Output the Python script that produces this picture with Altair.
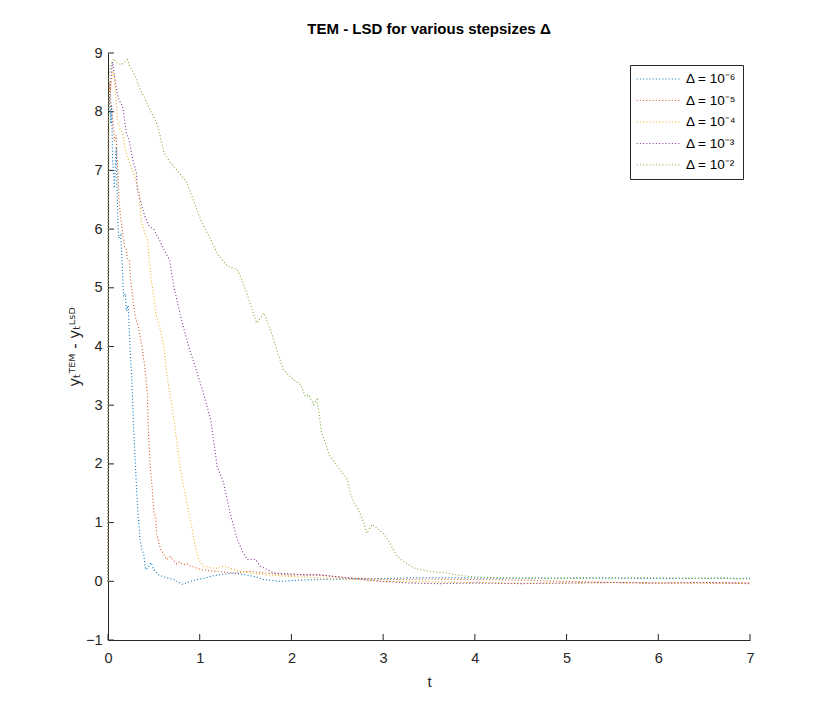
import altair as alt
import pandas as pd

# ---- data ----
labels = ["Δ = 10⁻⁶", "Δ = 10⁻⁵", "Δ = 10⁻⁴", "Δ = 10⁻³", "Δ = 10⁻²"]
colors = ["#0072BD", "#D95319", "#EDB120", "#7E2F8E", "#77AC30"]

t_e6 = [0, 0.005, 0.02, 0.03, 0.04, 0.05, 0.07, 0.09, 0.10, 0.11, 0.12, 0.14, 0.16, 0.17, 0.19, 0.20,
        0.22, 0.24, 0.26, 0.28, 0.30, 0.31, 0.33, 0.35, 0.37, 0.39, 0.41, 0.43, 0.47, 0.50, 0.55, 0.64,
        0.72, 0.81, 0.90, 0.97, 1.05, 1.12, 1.25, 1.37, 1.50, 1.59, 1.70, 1.88, 2.10, 2.31, 2.60, 2.97,
        3.30, 3.80, 4.30, 4.80, 5.30, 5.80, 6.30, 6.70, 7.00]
v_e6 = [0, 8.0, 8.3, 7.8, 8.1, 7.2, 6.7, 7.4, 6.6, 6.0, 5.85, 5.9, 5.2, 4.85, 4.9, 4.6,
        4.7, 4.0, 3.44, 2.58, 1.96, 1.6, 1.1, 0.71, 0.54, 0.45, 0.2, 0.22, 0.32, 0.2, 0.11, 0.06,
        0.03, -0.05, 0.0, 0.03, 0.05, 0.085, 0.12, 0.14, 0.11, 0.085, 0.03, 0.0, 0.02, 0.03, 0.04, 0.045,
        0.06, 0.06, 0.05, 0.055, 0.06, 0.05, 0.05, 0.055, 0.05]

t_e5 = [0, 0.005, 0.02, 0.03, 0.05, 0.07, 0.09, 0.10, 0.11, 0.12, 0.14, 0.16, 0.18, 0.20, 0.21, 0.23,
        0.25, 0.27, 0.28, 0.30, 0.33, 0.37, 0.41, 0.43, 0.44, 0.46, 0.48, 0.50, 0.52, 0.53, 0.57, 0.64,
        0.68, 0.70, 0.75, 0.78, 0.82, 0.86, 0.90, 1.01, 1.10, 1.19, 1.37, 1.55, 1.73, 1.95, 2.28, 2.60,
        2.79, 3.10, 3.50, 4.00, 4.50, 5.00, 5.50, 6.00, 6.50, 7.00]
v_e5 = [0, 8.0, 8.5, 8.2, 7.9, 7.5, 7.6, 7.18, 6.9, 6.5, 6.16, 5.94, 5.7, 5.65, 5.5, 5.48,
        5.1, 4.85, 4.68, 4.5, 4.34, 4.0, 3.55, 3.15, 2.58, 1.96, 1.62, 1.17, 1.1, 0.82, 0.56, 0.37,
        0.42, 0.38, 0.3, 0.33, 0.28, 0.3, 0.26, 0.2, 0.18, 0.17, 0.14, 0.17, 0.14, 0.11, 0.11, 0.06,
        0.045, 0.03, 0.04, 0.03, 0.02, 0.0, -0.02, -0.03, -0.03, -0.04]

t_e4 = [0, 0.005, 0.03, 0.05, 0.07, 0.09, 0.10, 0.13, 0.16, 0.18, 0.21, 0.25, 0.28, 0.31, 0.34, 0.36,
        0.40, 0.43, 0.47, 0.50, 0.52, 0.57, 0.61, 0.64, 0.68, 0.72, 0.77, 0.81, 0.84, 0.88, 0.92, 0.95,
        0.99, 1.04, 1.12, 1.20, 1.26, 1.37, 1.55, 1.73, 1.95, 2.28, 2.60, 3.00, 3.50, 4.00, 4.50, 5.00,
        5.50, 6.00, 6.50, 7.00]
v_e4 = [0, 8.2, 8.4, 8.7, 8.6, 8.2, 7.87, 7.7, 7.64, 7.41, 7.24, 7.07, 6.95, 6.79, 6.62, 6.16,
        5.94, 5.82, 5.14, 4.86, 4.57, 4.29, 4.0, 3.55, 3.15, 2.75, 2.13, 1.73, 1.5, 1.17, 0.88, 0.6,
        0.37, 0.26, 0.23, 0.22, 0.26, 0.2, 0.14, 0.11, 0.085, 0.06, 0.04, 0.0, -0.01, -0.02, -0.03, -0.03,
        -0.02, -0.03, -0.03, -0.03]

t_e3 = [0, 0.005, 0.02, 0.04, 0.05, 0.07, 0.10, 0.12, 0.16, 0.18, 0.20, 0.23, 0.27, 0.31, 0.32, 0.36,
        0.40, 0.45, 0.50, 0.56, 0.61, 0.67, 0.70, 0.72, 0.75, 0.81, 0.88, 0.95, 1.04, 1.12, 1.16, 1.19,
        1.26, 1.33, 1.41, 1.47, 1.52, 1.58, 1.61, 1.66, 1.81, 1.95, 2.17, 2.31, 2.60, 2.79, 2.97, 3.30,
        3.60, 4.00, 4.50, 5.00, 5.50, 6.00, 6.50, 7.00]
v_e3 = [0, 8.0, 8.3, 8.72, 8.85, 8.6, 8.32, 8.2, 8.09, 7.87, 7.64, 7.52, 7.18, 6.96, 6.67, 6.45,
        6.22, 6.05, 5.99, 5.82, 5.65, 5.48, 5.2, 5.0, 4.8, 4.4, 4.0, 3.66, 3.21, 2.75, 2.3, 1.96,
        1.68, 1.17, 0.71, 0.5, 0.37, 0.38, 0.37, 0.26, 0.14, 0.13, 0.11, 0.11, 0.06, 0.03, 0.0, -0.03,
        -0.04, -0.03, -0.04, -0.03, -0.02, -0.03, -0.02, -0.03]

t_e2 = [0, 0.01, 0.03, 0.06, 0.10, 0.15, 0.21, 0.24, 0.30, 0.35, 0.41, 0.46, 0.53, 0.57, 0.61, 0.68,
        0.75, 0.86, 0.93, 1.01, 1.12, 1.19, 1.30, 1.41, 1.46, 1.52, 1.62, 1.70, 1.77, 1.84, 1.91, 2.02,
        2.10, 2.15, 2.19, 2.24, 2.28, 2.30, 2.33, 2.37, 2.42, 2.50, 2.53, 2.57, 2.61, 2.64, 2.68, 2.73,
        2.79, 2.82, 2.88, 2.93, 3.01, 3.08, 3.15, 3.22, 3.33, 3.44, 3.55, 3.70, 3.84, 3.99, 4.30, 4.80,
        5.30, 5.80, 6.30, 6.70, 7.00]
v_e2 = [0, 8.6, 8.8, 8.9, 8.83, 8.8, 8.89, 8.77, 8.6, 8.38, 8.2, 8.03, 7.81, 7.58, 7.3, 7.13,
        7.01, 6.79, 6.5, 6.16, 5.82, 5.59, 5.37, 5.31, 5.14, 4.88, 4.4, 4.57, 4.29, 3.95, 3.61, 3.44,
        3.35, 3.15, 3.18, 3.01, 3.10, 2.87, 2.53, 2.36, 2.13, 1.96, 1.90, 1.82, 1.73, 1.51, 1.34, 1.22,
        0.99, 0.82, 0.97, 0.91, 0.80, 0.63, 0.43, 0.34, 0.23, 0.19, 0.16, 0.14, 0.10, 0.075, 0.06, 0.05,
        0.05, 0.06, 0.05, 0.05, 0.04]

x_ticks = [0, 1, 2, 3, 4, 5, 6, 7]
y_ticks = [-1, 0, 1, 2, 3, 4, 5, 6, 7, 8, 9]

# ---- build table ----
rows = []
for k, (ts, vs) in enumerate([(t_e6, v_e6), (t_e5, v_e5), (t_e4, v_e4), (t_e3, v_e3), (t_e2, v_e2)]):
    for i, (t, v) in enumerate(zip(ts, vs)):
        rows.append({"t": t, "v": v, "series": labels[k], "k": k, "i": i})
df = pd.DataFrame(rows)

FONT = "Liberation Sans"
AX = "#262626"
DASH = [1.0, 2.2]

xscale = alt.Scale(domain=[0, 7], nice=False, zero=False)
yscale = alt.Scale(domain=[-1, 9], nice=False, zero=False)

lines = alt.Chart(df).mark_line(strokeWidth=1.1, strokeDash=DASH).encode(
    x=alt.X("t:Q", scale=xscale,
            axis=alt.Axis(values=x_ticks, format="d", title="t", tickSize=0, labelPadding=11,
                          titlePadding=10, grid=False, labelFontSize=14.5, titleFontSize=15,
                          titleFontWeight="normal", labelFont=FONT, titleFont=FONT,
                          labelColor=AX, titleColor=AX, domainColor=AX, labelFlush=False)),
    y=alt.Y("v:Q", scale=yscale,
            axis=alt.Axis(values=y_ticks, format="d", title="yₜᵀᴱᴹ - yₜᴸˢᴰ", tickSize=0,
                          labelPadding=6, titlePadding=3, grid=False, labelFontSize=14.5,
                          titleFontSize=15, titleFontWeight="normal", labelFont=FONT,
                          titleFont="DejaVu Sans", labelColor=AX, titleColor=AX,
                          domainColor=AX, labelFlush=False)),
    color=alt.Color("series:N", scale=alt.Scale(domain=labels, range=colors),
                    legend=alt.Legend(orient="none", legendX=522, legendY=12, title=None,
                                      symbolType="stroke", symbolDash=DASH,
                                      symbolStrokeWidth=1.2, symbolSize=1900,
                                      clipHeight=16, rowPadding=5.5,
                                      labelFontSize=13.5, labelFont=FONT, labelColor="#000000",
                                      padding=6, labelOffset=5,
                                      strokeColor=AX, fillColor="white", cornerRadius=0)),
    detail="k:N",
    order="i:Q",
)

xt = pd.DataFrame({"t": x_ticks})
yt = pd.DataFrame({"v": y_ticks})
xtick_marks = alt.Chart(xt).mark_rule(color=AX, strokeWidth=1).encode(
    x=alt.X("t:Q", scale=xscale), y=alt.value(587), y2=alt.value(581))
ytick_marks = alt.Chart(yt).mark_rule(color=AX, strokeWidth=1).encode(
    y=alt.Y("v:Q", scale=yscale), x=alt.value(0), x2=alt.value(6))

chart = alt.layer(xtick_marks, ytick_marks, lines).properties(
    width=642, height=587,
    title=alt.TitleParams("TEM - LSD for various stepsizes Δ", font=FONT, fontSize=15,
                          fontWeight="bold", anchor="middle", offset=8, color="#000000"),
    autosize=alt.AutoSizeParams(type="none"),
    padding={"left": 100, "top": 45, "right": 72, "bottom": 72},
    background="white",
).configure_view(stroke=None)

chart.save("out.html", embed_options={"renderer": "svg", "actions": False})
